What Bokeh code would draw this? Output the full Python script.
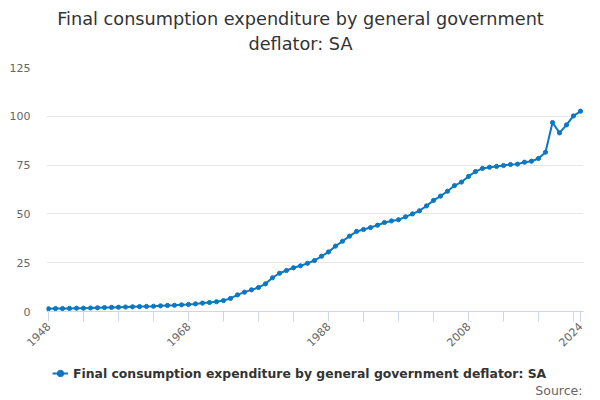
import math
from bokeh.plotting import figure
from bokeh.layouts import column
from bokeh.models import (ColumnDataSource, Range1d, FixedTicker, Label, Legend, LegendItem)
from bokeh.embed import file_html
from bokeh.resources import INLINE

years = list(range(1948, 2025))
values = [
    1.4, 1.5, 1.5, 1.6, 1.7, 1.7, 1.8, 1.9, 2.0, 2.1,
    2.2, 2.3, 2.4, 2.5, 2.6, 2.7, 2.9, 3.1, 3.2, 3.4,
    3.6, 3.9, 4.3, 4.6, 5.0, 5.6, 6.7, 8.5, 9.9, 11.1,
    12.3, 14.2, 17.3, 19.6, 21.0, 22.4, 23.4, 24.7, 26.1, 28.3,
    30.5, 33.5, 36.0, 38.6, 41.0, 42.0, 43.0, 44.2, 45.6, 46.4,
    47.0, 48.5, 50.0, 51.6, 54.1, 56.9, 59.1, 61.6, 64.5, 66.3,
    69.2, 71.7, 73.3, 73.9, 74.3, 74.8, 75.3, 75.5, 76.5, 77.0,
    78.4, 81.6, 96.8, 91.5, 95.6, 100.2, 102.6,
]
x_ticks = [1948, 1953, 1958, 1963, 1968, 1973, 1978, 1983, 1988, 1993,
           1998, 2003, 2008, 2013, 2018, 2023, 2024]
x_labels = {1948: "1948", 1968: "1968", 1988: "1988", 2008: "2008", 2024: "2024"}
y_ticks = [0, 25, 50, 75, 100, 125]

title_lines = ["Final consumption expenditure by general government", "deflator: SA"]
series_name = "Final consumption expenditure by general government deflator: SA"
source_text = "Source:"

FONT = "DejaVu Sans"
COLOR = "#0b78c0"


def bare(fig):
    fig.outline_line_color = None
    fig.xaxis.visible = False
    fig.yaxis.visible = False
    fig.xgrid.visible = False
    fig.ygrid.visible = False
    fig.background_fill_color = "white"
    fig.border_fill_color = "white"


src = ColumnDataSource(data=dict(x=years, y=values))

# ---- title strip (frame is aligned with the chart frame, 46..583 px) ----
t = figure(width=600, height=59, output_backend="svg", toolbar_location=None,
           x_range=Range1d(46, 583), y_range=Range1d(0, 59), min_border=0)
bare(t)
t.add_layout(Label(x=300, y=41, text=title_lines[0], text_align="center",
                   text_baseline="middle", text_font=FONT, text_font_size="17.7px",
                   text_color="#333333"))
t.add_layout(Label(x=300, y=16, text=title_lines[1], text_align="center",
                   text_baseline="middle", text_font=FONT, text_font_size="17.7px",
                   text_color="#333333"))

# ---- main chart ----
p = figure(width=600, height=301, output_backend="svg", toolbar_location=None,
           x_range=Range1d(1948 - 2/7, 2024 + 3/7), y_range=Range1d(0, 125),
           min_border_left=46, min_border_right=17, min_border_top=8,
           min_border_bottom=49)
p.outline_line_color = None
p.background_fill_color = "white"
p.border_fill_color = "white"

r_line = p.line("x", "y", source=src, line_color=COLOR, line_width=2)
r_pts = p.scatter("x", "y", source=src, size=4.2, fill_color=COLOR, line_color=COLOR)

xa = p.xaxis[0]
xa.ticker = FixedTicker(ticks=x_ticks)
xa.major_label_overrides = {tk: x_labels.get(tk, "") for tk in x_ticks}
xa.major_label_orientation = math.pi / 4
xa.axis_line_color = "#ccd6eb"
xa.major_tick_line_color = "#ccd6eb"
xa.major_tick_out = 10
xa.major_tick_in = 0
xa.minor_tick_line_color = None
xa.major_label_text_font = FONT
xa.major_label_text_font_size = "11px"
xa.major_label_text_color = "#666666"
xa.major_label_standoff = 3

ya = p.yaxis[0]
ya.ticker = FixedTicker(ticks=y_ticks)
ya.axis_line_color = None
ya.major_tick_line_color = None
ya.minor_tick_line_color = None
ya.major_label_text_font = FONT
ya.major_label_text_font_size = "11px"
ya.major_label_text_color = "#666666"
ya.major_label_standoff = 10

p.xgrid.grid_line_color = None
p.ygrid.grid_line_color = "#e6e6e6"
p.ygrid.ticker = FixedTicker(ticks=y_ticks)

# ---- legend + source strip ----
b = figure(width=600, height=40, output_backend="svg", toolbar_location=None,
           x_range=Range1d(46, 583), y_range=Range1d(0, 40), min_border=0)
bare(b)
# legend key renderers share the series data (falls outside this strip's ranges)
lg_line = b.line("x", "y", source=src, line_color=COLOR, line_width=2)
lg_pts = b.scatter("x", "y", source=src, size=4, fill_color=COLOR, line_color=COLOR)
legend = Legend(items=[LegendItem(label=series_name, renderers=[lg_line, lg_pts])],
                location=(6, 19), orientation="horizontal",
                padding=0, margin=0, spacing=0,
                glyph_width=16, glyph_height=16, label_height=16,
                label_standoff=5,
                label_text_font=FONT, label_text_font_size="12.4px",
                label_text_font_style="bold", label_text_color="#333333",
                border_line_color=None, background_fill_alpha=0)
b.add_layout(legend, "center")
b.add_layout(Label(x=582, y=10, text=source_text, text_align="right",
                   text_baseline="middle", text_font=FONT, text_font_size="12.5px",
                   text_color="#666666"))

layout = column(t, p, b, spacing=0)
open("out.html", "w").write(file_html(layout, INLINE))
